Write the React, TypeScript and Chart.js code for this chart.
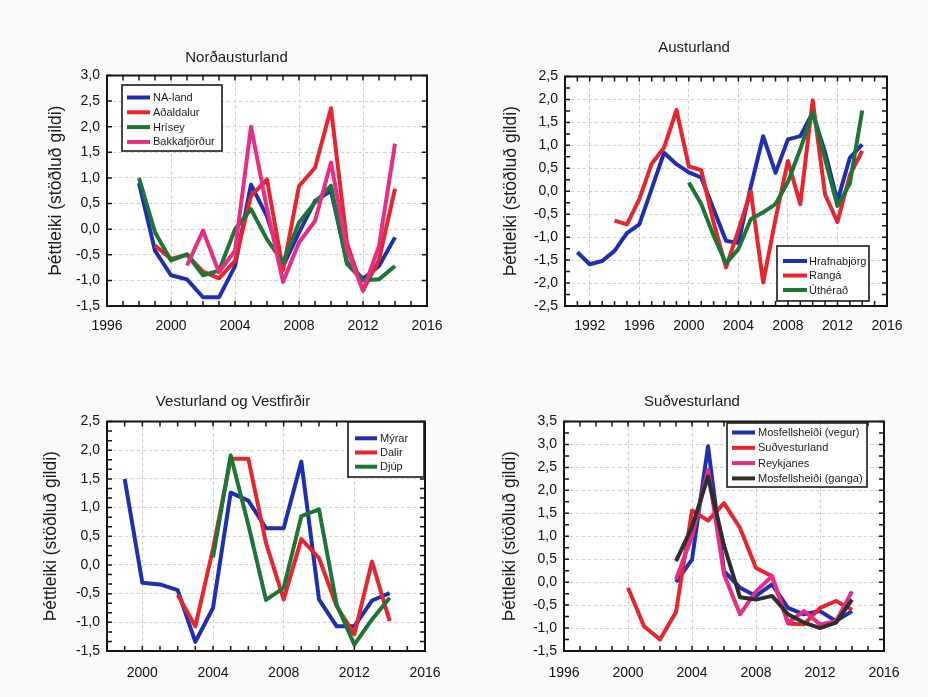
import React, { useEffect, useRef } from 'react';
import { Chart, registerables } from 'chart.js';

Chart.register(...registerables);

const FONT = '"Liberation Sans", Arial, Helvetica, sans-serif';
Chart.defaults.font.family = FONT;

const Y_TITLE = 'Þéttleiki (stöðluð gildi)';

const BLUE = '#1f2fb4';
const RED = '#e8242c';
const GREEN = '#1d7636';
const PINK = '#e62e86';
const BLACK = '#2e2e2e';

// ---------- Norðausturland ----------
const yearsNA = [1998, 1999, 2000, 2001, 2002, 2003, 2004, 2005, 2006, 2007, 2008, 2009, 2010, 2011, 2012, 2013, 2014];
const naLand = [0.9, -0.42, -0.9, -0.98, -1.33, -1.33, -0.72, 0.87, 0.25, -0.72, -0.07, 0.55, 0.75, -0.65, -0.97, -0.72, -0.16];
const adaldalur = [null, -0.32, -0.58, -0.5, -0.83, -0.96, -0.62, 0.65, 0.97, -0.8, 0.84, 1.2, 2.36, -0.28, -1.2, -0.6, 0.79];
const hrisey = [1.0, -0.06, -0.61, -0.49, -0.9, -0.81, 0.0, 0.39, -0.2, -0.65, 0.13, 0.52, 0.85, -0.68, -1.0, -0.98, -0.72];
const bakkafjordur = [null, null, null, -0.71, -0.03, -0.84, -0.42, 2.0, 0.4, -1.03, -0.26, 0.16, 1.3, -0.4, -1.2, -0.33, 1.67];

// ---------- Austurland ----------
const yearsA = [1991, 1992, 1993, 1994, 1995, 1996, 1997, 1998, 1999, 2000, 2001, 2002, 2003, 2004, 2005, 2006, 2007, 2008, 2009, 2010, 2011, 2012, 2013, 2014];
const hrafnabjorg = [-1.33, -1.59, -1.52, -1.3, -0.91, -0.72, 0.05, 0.84, 0.59, 0.41, 0.3, -0.39, -1.08, -1.13, 0.1, 1.2, 0.4, 1.13, 1.2, 1.71, 0.85, -0.21, 0.73, 1.02];
const ranga = [null, null, null, -0.64, -0.72, -0.17, 0.6, 0.95, 1.77, 0.54, 0.46, -0.68, -1.66, -0.85, 0.0, -1.99, -0.6, 0.66, -0.28, 1.98, -0.07, -0.67, 0.35, 0.88];
const utherad = [null, null, null, null, null, null, null, null, null, 0.19, -0.28, -0.97, -1.57, -1.26, -0.61, -0.46, -0.28, 0.2, 0.92, 1.72, 0.7, -0.32, 0.17, 1.76];

// ---------- Vesturland og Vestfirðir ----------
const yearsV = [1999, 2000, 2001, 2002, 2003, 2004, 2005, 2006, 2007, 2008, 2009, 2010, 2011, 2012, 2013, 2014];
const myrar = [1.5, -0.31, -0.34, -0.44, -1.34, -0.75, 1.26, 1.12, 0.64, 0.64, 1.8, -0.6, -1.07, -1.07, -0.62, -0.49];
const dalir = [null, null, null, -0.52, -1.07, 0.28, 1.85, 1.85, 0.38, -0.6, 0.45, 0.12, -0.72, -1.21, 0.06, -0.98];
const djup = [null, null, null, null, null, 0.13, 1.91, 0.7, -0.61, -0.4, 0.85, 0.97, -0.69, -1.39, -0.95, -0.57];

// ---------- Suðvesturland ----------
const yearsS = [2000, 2001, 2002, 2003, 2004, 2005, 2006, 2007, 2008, 2009, 2010, 2011, 2012, 2013, 2014];
const mosVegur = [null, null, null, 0.0, 0.49, 2.96, 0.24, -0.12, -0.3, -0.05, -0.56, -0.7, -0.63, -0.85, -0.63];
const sudvesturland = [-0.12, -0.96, -1.25, -0.65, 1.56, 1.34, 1.72, 1.18, 0.31, 0.13, -0.9, -0.92, -0.56, -0.41, -0.6];
const reykjanes = [null, null, null, 0.06, 1.0, 2.45, 0.17, -0.7, -0.2, 0.13, -0.88, -0.63, -0.92, -0.85, -0.2];
const mosGanga = [null, null, null, 0.46, 1.2, 2.3, 0.8, -0.33, -0.38, -0.3, -0.7, -0.88, -1.0, -0.88, -0.38];

// ---------- x tick labels ----------
const xTicksNA = [1996, 2000, 2004, 2008, 2012, 2016];
const xTicksA = [1992, 1996, 2000, 2004, 2008, 2012, 2016];
const xTicksV = [2000, 2004, 2008, 2012, 2016];
const xTicksS = [1996, 2000, 2004, 2008, 2012, 2016];

type Series = { label: string; data: (number | null)[]; color: string };

type PanelCfg = {
  left: number; top: number; w: number; h: number;
  title: string;
  years: number[];
  xTicks: number[];
  series: Series[];
  xMin: number; xMax: number;
  yMin: number; yMax: number;
  padLeft: number; padRight: number; padBottom: number;
  yAxisW: number;
  titlePadTop: number; titlePadBottom: number;
  xTickPad: number;
  yMinor: number;
  legend: { x: number; y: number; w: number; h: number; row0: number; step: number; sw0: number; sw1: number; tx: number };
};

const panels: PanelCfg[] = [
  {
    left: 0, top: 0, w: 464, h: 348,
    title: 'Norðausturland',
    years: yearsNA,
    xTicks: xTicksNA,
    series: [
      { label: 'NA-land', data: naLand, color: BLUE },
      { label: 'Aðaldalur', data: adaldalur, color: RED },
      { label: 'Hrísey', data: hrisey, color: GREEN },
      { label: 'Bakkafjörður', data: bakkafjordur, color: PINK },
    ],
    xMin: 1996, xMax: 2016, yMin: -1.5, yMax: 3.0,
    padLeft: 46, padRight: 37, padBottom: 12, yAxisW: 61,
    titlePadTop: 49.3, titlePadBottom: 8.2, xTickPad: 12, yMinor: 1,
    legend: { x: 122, y: 85, w: 100, h: 66, row0: 97.5, step: 14.8, sw0: 127, sw1: 150, tx: 153 },
  },
  {
    left: 464, top: 0, w: 464, h: 348,
    title: 'Austurland',
    years: yearsA,
    xTicks: xTicksA,
    series: [
      { label: 'Hrafnabjörg', data: hrafnabjorg, color: BLUE },
      { label: 'Rangá', data: ranga, color: RED },
      { label: 'Úthérað', data: utherad, color: GREEN },
    ],
    xMin: 1990, xMax: 2016, yMin: -2.5, yMax: 2.5,
    padLeft: 37, padRight: 41, padBottom: 12, yAxisW: 64,
    titlePadTop: 39.3, titlePadBottom: 19.2, xTickPad: 12, yMinor: 2,
    legend: { x: 313, y: 246, w: 92, h: 55, row0: 261, step: 14.5, sw0: 319, sw1: 343, tx: 345 },
  },
  {
    left: 0, top: 348, w: 464, h: 349,
    title: 'Vesturland og Vestfirðir',
    years: yearsV,
    xTicks: xTicksV,
    series: [
      { label: 'Mýrar', data: myrar, color: BLUE },
      { label: 'Dalir', data: dalir, color: RED },
      { label: 'Djúp', data: djup, color: GREEN },
    ],
    xMin: 1998, xMax: 2016, yMin: -1.5, yMax: 2.5,
    padLeft: 41, padRight: 39, padBottom: 16, yAxisW: 66,
    titlePadTop: 44.7, titlePadBottom: 10.8, xTickPad: 14, yMinor: 3,
    legend: { x: 348, y: 74, w: 76, h: 55, row0: 90.3, step: 14.2, sw0: 355, sw1: 377, tx: 380 },
  },
  {
    left: 464, top: 348, w: 464, h: 349,
    title: 'Suðvesturland',
    years: yearsS,
    xTicks: xTicksS,
    series: [
      { label: 'Mosfellsheiði (vegur)', data: mosVegur, color: BLUE },
      { label: 'Suðvesturland', data: sudvesturland, color: RED },
      { label: 'Reykjanes', data: reykjanes, color: PINK },
      { label: 'Mosfellsheiði (ganga)', data: mosGanga, color: BLACK },
    ],
    xMin: 1996, xMax: 2016, yMin: -1.5, yMax: 3.5,
    padLeft: 36, padRight: 44, padBottom: 16, yAxisW: 64,
    titlePadTop: 44.7, titlePadBottom: 10.8, xTickPad: 14, yMinor: 2,
    legend: { x: 263, y: 75, w: 140, h: 64, row0: 84.5, step: 15.3, sw0: 268, sw1: 291, tx: 294 },
  },
];

const framePlugin = {
  id: 'frame',
  beforeDraw(chart: any) {
    const { ctx, chartArea: a } = chart;
    ctx.save();
    ctx.fillStyle = '#ffffff';
    ctx.fillRect(a.left, a.top, a.right - a.left, a.bottom - a.top);
    ctx.restore();
  },
  afterDatasetsDraw(chart: any, _args: any, opts: any) {
    const { ctx, chartArea: a, scales } = chart;
    const xs = scales.x;
    const ys = scales.y;
    ctx.save();
    ctx.strokeStyle = '#151515';
    ctx.lineWidth = 1.5;
    const tl = 5;
    ctx.beginPath();
    for (let yr = Math.ceil(xs.min); yr <= xs.max; yr++) {
      const px = xs.getPixelForValue(yr);
      ctx.moveTo(px, a.bottom); ctx.lineTo(px, a.bottom - tl);
      ctx.moveTo(px, a.top); ctx.lineTo(px, a.top + tl);
    }
    const n = opts.yMinor || 1;
    const stepY = 0.5 / n;
    const cnt = Math.round((ys.max - ys.min) / stepY);
    for (let i = 0; i <= cnt; i++) {
      const v = ys.min + i * stepY;
      const py = ys.getPixelForValue(v);
      ctx.moveTo(a.left, py); ctx.lineTo(a.left + tl, py);
      ctx.moveTo(a.right, py); ctx.lineTo(a.right - tl, py);
    }
    ctx.stroke();
    ctx.lineWidth = 2;
    ctx.strokeRect(a.left, a.top, a.right - a.left, a.bottom - a.top);

    const lg = opts.legend;
    if (lg) {
      ctx.fillStyle = '#ffffff';
      ctx.fillRect(lg.x, lg.y, lg.w, lg.h);
      ctx.lineWidth = 1.6;
      ctx.strokeStyle = '#1a1a1a';
      ctx.strokeRect(lg.x, lg.y, lg.w, lg.h);
      ctx.font = '11px ' + FONT;
      ctx.textBaseline = 'middle';
      ctx.textAlign = 'left';
      chart.data.datasets.forEach((ds: any, i: number) => {
        const yy = lg.row0 + i * lg.step;
        ctx.strokeStyle = ds.borderColor;
        ctx.lineWidth = 4;
        ctx.beginPath();
        ctx.moveTo(lg.sw0, yy); ctx.lineTo(lg.sw1, yy);
        ctx.stroke();
        ctx.fillStyle = '#1a1a1a';
        ctx.fillText(ds.label, lg.tx, yy + 0.5);
      });
    }
    ctx.restore();
  },
};

function Panel({ cfg }: { cfg: PanelCfg }) {
  const ref = useRef<HTMLCanvasElement>(null);
  useEffect(() => {
    const n = cfg.series.length;
    const chart = new Chart(ref.current as HTMLCanvasElement, {
      type: 'line',
      data: {
        datasets: cfg.series.map((s, i) => ({
          label: s.label,
          data: cfg.years
            .map((x, j) => ({ x, y: s.data[j] }))
            .filter((p) => p.y !== null) as any,
          borderColor: s.color,
          backgroundColor: s.color,
          borderWidth: 4,
          borderJoinStyle: 'round',
          borderCapStyle: 'butt',
          pointRadius: 0,
          tension: 0,
          fill: false,
          order: n - i,
        })),
      },
      options: {
        animation: false,
        responsive: false,
        maintainAspectRatio: false,
        events: [],
        layout: { padding: { left: cfg.padLeft, right: cfg.padRight, top: 0, bottom: cfg.padBottom } },
        plugins: {
          legend: { display: false },
          tooltip: { enabled: false },
          title: {
            display: true,
            text: cfg.title,
            color: '#1a1a1a',
            font: { size: 15, weight: 'normal', family: FONT, lineHeight: 1.2 },
            padding: { top: cfg.titlePadTop, bottom: cfg.titlePadBottom },
          },
          frame: { legend: cfg.legend, yMinor: cfg.yMinor },
        } as any,
        scales: {
          x: {
            type: 'linear',
            min: cfg.xMin,
            max: cfg.xMax,
            afterBuildTicks: (s: any) => {
              s.ticks = cfg.xTicks.map((v) => ({ value: v }));
            },
            ticks: {
              autoSkip: false,
              maxRotation: 0,
              color: '#111',
              font: { size: 14, family: FONT },
              padding: cfg.xTickPad,
              callback: (v: any) => String(v),
            },
            grid: { color: '#c9c9c9', lineWidth: 1, drawTicks: false },
            border: { display: false, dash: [3, 3] },
            afterFit: (s: any) => { s.height = 30; },
          },
          y: {
            type: 'linear',
            min: cfg.yMin,
            max: cfg.yMax,
            ticks: {
              stepSize: 0.5,
              autoSkip: false,
              color: '#111',
              font: { size: 14, family: FONT },
              padding: 7,
              callback: (v: any) => Number(v).toFixed(1).replace('.', ','),
            },
            title: {
              display: true,
              text: Y_TITLE,
              color: '#1a1a1a',
              font: { size: 17.5, family: FONT, lineHeight: 1.2 },
              padding: 0,
            },
            grid: { color: '#cfcfcf', lineWidth: 1, drawTicks: false },
            border: { display: false, dash: [3, 3] },
            afterFit: (s: any) => { s.width = cfg.yAxisW; },
          },
        },
      } as any,
      plugins: [framePlugin],
    });
    return () => chart.destroy();
  }, [cfg]);
  return (
    <canvas
      ref={ref}
      width={cfg.w}
      height={cfg.h}
      style={{ position: 'absolute', left: cfg.left, top: cfg.top, width: cfg.w, height: cfg.h }}
    />
  );
}

export default function App() {
  useEffect(() => {
    document.body.style.margin = '0';
    document.body.style.background = '#fafafa';
  }, []);
  return (
    <div style={{ position: 'relative', width: 928, height: 697, background: '#fafafa', overflow: 'hidden' }}>
      {panels.map((p, i) => (
        <Panel key={i} cfg={p} />
      ))}
    </div>
  );
}
